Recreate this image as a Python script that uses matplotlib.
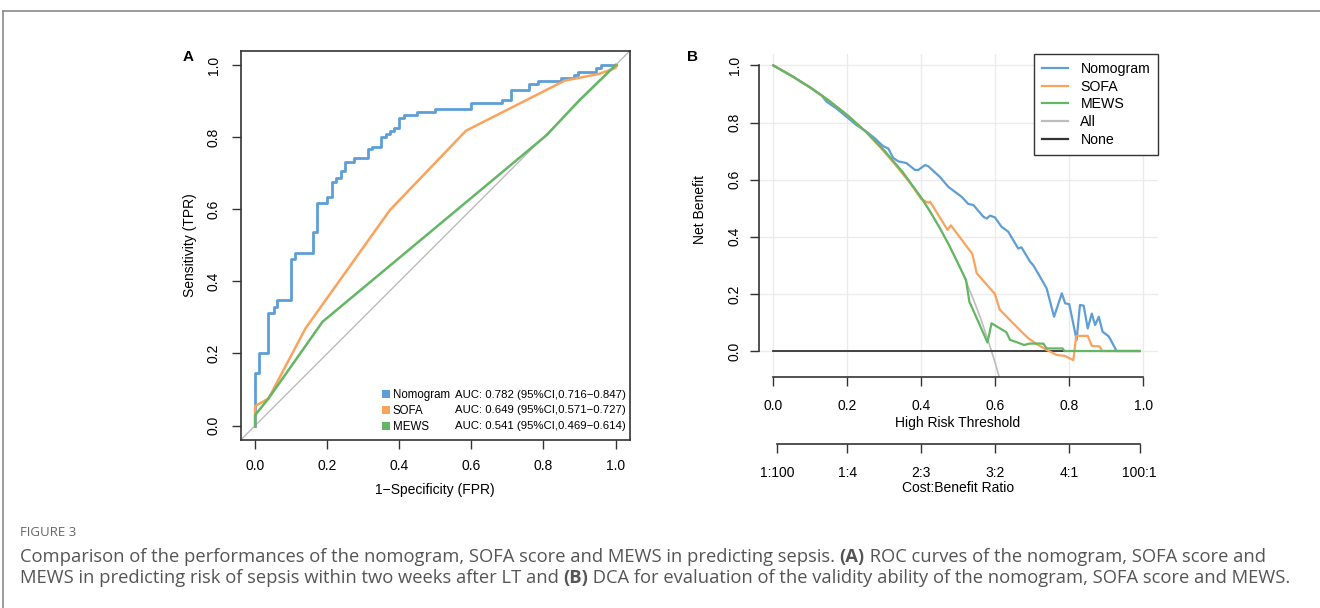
import matplotlib
matplotlib.use("Agg")
import matplotlib.pyplot as plt
from matplotlib.patches import Patch
from matplotlib.lines import Line2D

plt.rcParams['font.family'] = ['Liberation Sans', 'DejaVu Sans']

W, H = 1320, 608

# ---- ROC data (panel A) ----
nomo_fpr = [0, 0, 0.011, 0.037, 0.051, 0.062, 0.099, 0.111, 0.161, 0.173, 0.199, 0.213,
            0.224, 0.238, 0.25, 0.274, 0.312, 0.325, 0.349, 0.362, 0.374, 0.386, 0.398,
            0.413, 0.45, 0.5, 0.6, 0.686, 0.711, 0.76, 0.786, 0.848, 0.885, 0.897, 0.947,
            0.96, 1.0]
nomo_tpr = [0, 0.147, 0.2, 0.313, 0.33, 0.348, 0.461, 0.479, 0.538, 0.618, 0.635, 0.677,
            0.688, 0.705, 0.731, 0.741, 0.767, 0.774, 0.8, 0.808, 0.818, 0.826, 0.852,
            0.861, 0.870, 0.878, 0.896, 0.904, 0.930, 0.947, 0.955, 0.964, 0.973, 0.982,
            0.991, 1.0, 1.0]
sofa_fpr = [0, 0, 0.037, 0.14, 0.374, 0.585, 0.859, 0.952, 1.0, 1.0]
sofa_tpr = [0, 0.054, 0.075, 0.27, 0.598, 0.818, 0.957, 0.975, 0.992, 1.0]
mews_fpr = [0, 0, 0.037, 0.187, 0.809, 0.9, 1.0]
mews_tpr = [0, 0.029, 0.075, 0.288, 0.806, 0.903, 1.0]

roc_names = ['Nomogram', 'SOFA', 'MEWS']
auc_text = ['AUC: 0.782 (95%CI,0.716\u22120.847)',
            'AUC: 0.649 (95%CI,0.571\u22120.727)',
            'AUC: 0.541 (95%CI,0.469\u22120.614)']

# ---- DCA data (panel B) ----
all_thr = [0, 0.05, 0.1, 0.15, 0.2, 0.25, 0.3, 0.35, 0.4, 0.425, 0.45, 0.475, 0.5, 0.52,
           0.54, 0.56, 0.58, 0.6, 0.62]
all_nb = [1.0, 0.963, 0.923, 0.877, 0.826, 0.768, 0.702, 0.626, 0.537, 0.486, 0.431, 0.371,
          0.305, 0.247, 0.184, 0.116, 0.04, -0.042, -0.134]

nomo_thr = [0, 0.05, 0.1, 0.13, 0.144, 0.171, 0.198, 0.225, 0.252, 0.275, 0.297, 0.311,
            0.324, 0.338, 0.36, 0.383, 0.392, 0.41, 0.419, 0.45, 0.473, 0.509, 0.527, 0.541,
            0.568, 0.577, 0.586, 0.599, 0.617, 0.635, 0.662, 0.671, 0.694, 0.703, 0.721,
            0.739, 0.759, 0.78, 0.789, 0.8, 0.82, 0.829, 0.839, 0.85, 0.861, 0.87, 0.88,
            0.89, 0.907, 0.928, 0.99]
nomo_nb = [1.0, 0.963, 0.922, 0.896, 0.873, 0.849, 0.82, 0.791, 0.768, 0.744, 0.717, 0.709,
           0.676, 0.664, 0.658, 0.634, 0.634, 0.651, 0.647, 0.61, 0.575, 0.54, 0.515, 0.511,
           0.47, 0.464, 0.474, 0.468, 0.435, 0.418, 0.359, 0.363, 0.313, 0.3, 0.26,
           0.219, 0.12, 0.202, 0.167, 0.164, 0.039, 0.161, 0.159, 0.079, 0.131, 0.091, 0.12,
           0.068, 0.051, 0.0, 0.0]

sofa_thr = [0, 0.05, 0.1, 0.15, 0.2, 0.25, 0.29, 0.33, 0.37, 0.4, 0.419, 0.424, 0.471, 0.48,
            0.538, 0.55, 0.599, 0.612, 0.669, 0.69, 0.716, 0.739, 0.766, 0.788, 0.811, 0.819,
            0.85, 0.861, 0.882, 0.889, 0.99]
sofa_nb = [1.0, 0.963, 0.922, 0.877, 0.826, 0.768, 0.712, 0.652, 0.588, 0.532, 0.519, 0.523,
           0.424, 0.44, 0.34, 0.272, 0.2, 0.145, 0.07, 0.044, 0.021, 0.004, -0.014, -0.017,
           -0.032, 0.053, 0.053, 0.018, 0.016, 0.0, 0.0]

mews_thr = [0, 0.05, 0.1, 0.15, 0.2, 0.25, 0.3, 0.35, 0.4, 0.425, 0.45, 0.475, 0.5, 0.521,
            0.53, 0.579, 0.59, 0.63, 0.64, 0.66, 0.678, 0.693, 0.73, 0.739, 0.782, 0.787, 0.99]
mews_nb = [1.0, 0.963, 0.923, 0.877, 0.826, 0.768, 0.702, 0.626, 0.537, 0.486, 0.431, 0.371,
           0.305, 0.249, 0.173, 0.03, 0.097, 0.066, 0.039, 0.03, 0.021, 0.026, 0.026, 0.009,
           0.009, 0.0, 0.0]

none_thr = [0, 0.99]
none_nb = [0, 0]

cb_ticks = [0.0099, 0.2, 0.4, 0.6, 0.8, 0.99]
cb_labels = ['1:100', '1:4', '2:3', '3:2', '4:1', '100:1']

blue, orange, green = '#5E9ED6', '#F9A35C', '#63B663'
grey_all, col_none = '#BDBDBD', '#333333'
axcol = '#333333'


def fx(px):
    return px / W


def fy(py):
    return 1 - py / H


fig = plt.figure(figsize=(W / 100, H / 100), dpi=100)

# ---------- Panel A: ROC ----------
axA = fig.add_axes([fx(240.7), fy(440), (630 - 240.7) / W, (440 - 50.7) / H])
axA.set_xlim(-0.04, 1.04)
axA.set_ylim(-0.04, 1.04)
axA.plot([-0.04, 1.04], [-0.04, 1.04], color='#BBBBBB', lw=1)
axA.plot(nomo_fpr, nomo_tpr, color=blue, lw=2, drawstyle='steps-post')
axA.plot(sofa_fpr, sofa_tpr, color=orange, lw=1.8)
axA.plot(mews_fpr, mews_tpr, color=green, lw=1.8)
for s in axA.spines.values():
    s.set_color(axcol)
    s.set_linewidth(1.2)
ticks = [0, 0.2, 0.4, 0.6, 0.8, 1.0]
axA.set_xticks(ticks)
axA.set_yticks(ticks)
axA.set_xticklabels(['%.1f' % t for t in ticks])
axA.set_yticklabels(['%.1f' % t for t in ticks], rotation=90, va='center')
axA.tick_params(axis='both', labelsize=10, length=6.5, width=1, color=axcol)
axA.tick_params(axis='x', pad=7)
axA.tick_params(axis='y', pad=8)

handles = [Patch(facecolor=c, edgecolor='none') for c in (blue, orange, green)]
axA.legend(handles, roc_names, loc='lower left', frameon=False, fontsize=8.3,
           bbox_to_anchor=(fx(381.5), fy(433)), bbox_transform=fig.transFigure,
           borderpad=0, borderaxespad=0, handlelength=0.72, handleheight=0.72,
           handletextpad=0.25, labelspacing=0.33)
for i, t in enumerate(auc_text):
    fig.text(fx(455), fy(395 + i * 15.3), t, fontsize=8.2, va='center', ha='left')

fig.text(fx(190), fy(245), 'Sensitivity (TPR)', rotation=90, ha='center', va='center', fontsize=10)
fig.text(fx(435), fy(490), '1\u2212Specificity (FPR)', ha='center', va='center', fontsize=10)
fig.text(fx(188), fy(57), 'A', fontsize=11, fontweight='bold', ha='center', va='center')

# ---------- Panel B: DCA ----------
axB = fig.add_axes([fx(750), fy(377), (1158 - 750) / W, (377 - 54) / H])
axB.set_xlim(-0.063, 1.04)
axB.set_ylim(-0.091, 1.04)
for t in ticks:
    axB.axvline(t, color='#EBEBEB', lw=1, zorder=0)
    axB.axhline(t, color='#EBEBEB', lw=1, zorder=0)
axB.plot(all_thr, all_nb, color=grey_all, lw=1.2, label='All')
axB.plot(none_thr, none_nb, color=col_none, lw=1.3, label='None')
axB.plot(nomo_thr, nomo_nb, color=blue, lw=1.6, label='Nomogram')
axB.plot(sofa_thr, sofa_nb, color=orange, lw=1.6, label='SOFA')
axB.plot(mews_thr, mews_nb, color=green, lw=1.6, label='MEWS')
axB.spines['top'].set_visible(False)
axB.spines['right'].set_visible(False)
axB.spines['left'].set_position(('data', -0.04))
axB.spines['left'].set_bounds(0, 1)
axB.spines['bottom'].set_bounds(0, 1)
for s in ('left', 'bottom'):
    axB.spines[s].set_color(axcol)
    axB.spines[s].set_linewidth(1.2)
axB.set_xticks(ticks)
axB.set_yticks(ticks)
axB.set_xticklabels(['%.1f' % t for t in ticks])
axB.set_yticklabels(['%.1f' % t for t in ticks], rotation=90, va='center')
axB.tick_params(axis='both', labelsize=10, length=6.5, width=1, color=axcol)
axB.tick_params(axis='x', pad=9)
axB.tick_params(axis='y', pad=5.5)

hB = [Line2D([], [], color=c, lw=1.6) for c in (blue, orange, green, grey_all, col_none)]
legB = axB.legend(hB, ['Nomogram', 'SOFA', 'MEWS', 'All', 'None'], loc='upper right',
                  bbox_to_anchor=(1, 1), fontsize=10.2, fancybox=False, framealpha=1,
                  borderaxespad=0, handlelength=1.8, handletextpad=0.9, labelspacing=0.27,
                  borderpad=0.55)
legB.get_frame().set_edgecolor(axcol)
legB.get_frame().set_linewidth(1)

# cost:benefit axis
axC = fig.add_axes([fx(750), fy(444), (1158 - 750) / W, 0.0001])
axC.set_xlim(-0.063, 1.04)
axC.set_yticks([])
for s in ('top', 'right', 'left'):
    axC.spines[s].set_visible(False)
axC.spines['bottom'].set_bounds(cb_ticks[0], cb_ticks[-1])
axC.spines['bottom'].set_color(axcol)
axC.spines['bottom'].set_linewidth(1.2)
axC.patch.set_visible(False)
axC.set_xticks(cb_ticks)
axC.set_xticklabels(cb_labels)
axC.tick_params(axis='x', labelsize=10, length=6.5, width=1, color=axcol, pad=9)

fig.text(fx(700), fy(210), 'Net Benefit', rotation=90, ha='center', va='center', fontsize=10)
fig.text(fx(958), fy(423), 'High Risk Threshold', ha='center', va='center', fontsize=10)
fig.text(fx(958), fy(488), 'Cost:Benefit Ratio', ha='center', va='center', fontsize=10)
fig.text(fx(693), fy(57), 'B', fontsize=11, fontweight='bold', ha='center', va='center')

# ---------- frame and caption ----------
fig.add_artist(Line2D([fx(3), 1], [fy(11), fy(11)], color='#8A8A8A', lw=1.2))
fig.add_artist(Line2D([fx(3), fx(3)], [fy(11), 0], color='#8A8A8A', lw=1.2))

cap_font = ['Open Sans', 'DejaVu Sans']
fig.text(fx(20), fy(533), 'FIGURE 3', fontsize=9.5, color='#666666', va='center',
         family=cap_font)
lines = [
    [('Comparison of the performances of the nomogram, SOFA score and MEWS in predicting sepsis. ', 'normal'),
     ('(A)', 'bold'), (' ROC curves of the nomogram, SOFA score and', 'normal')],
    [('MEWS in predicting risk of sepsis within two weeks after LT and ', 'normal'),
     ('(B)', 'bold'), (' DCA for evaluation of the validity ability of the nomogram, SOFA score and MEWS.', 'normal')],
]
renderer = fig.canvas.get_renderer()
for li, segs in enumerate(lines):
    x = fx(20)
    for txt, wt in segs:
        t = fig.text(x, fy(557 + li * 21), txt, fontsize=13.2, color='#555555', va='center',
                     fontweight=wt, family=cap_font)
        bb = t.get_window_extent(renderer=renderer)
        x += bb.width / W

fig.savefig('out.png', dpi=100)
